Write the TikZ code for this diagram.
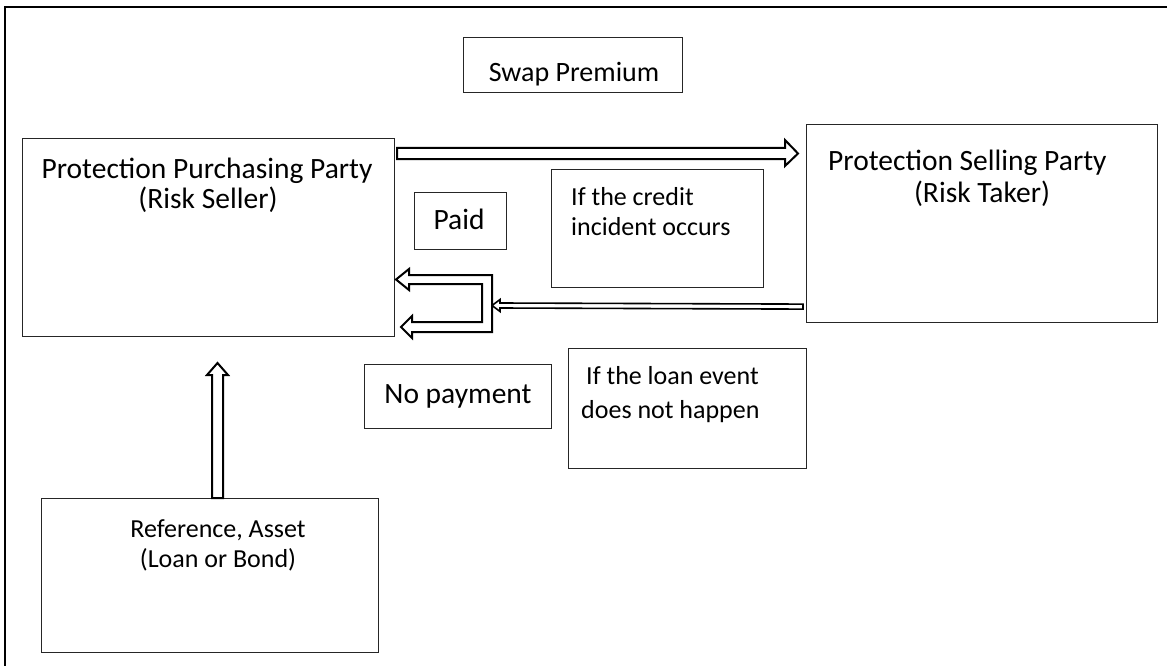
\documentclass[tikz,border=0pt]{standalone}
\usepackage{fontspec}
\setmainfont{Carlito}
\usetikzlibrary{calc}
\tikzset{
  box/.style={draw=black!85, line width=1.1pt, inner sep=0pt, anchor=north west},
  txt/.style={inner sep=0pt, anchor=base west, font=\fontsize{28}{34}\selectfont},
  txtc/.style={inner sep=0pt, anchor=base, font=\fontsize{28}{34}\selectfont},
  big/.style={font=\fontsize{29.5}{34}\selectfont},
  small/.style={font=\fontsize{26}{30}\selectfont},
  blockarrow/.style={draw=black, line width=2pt, fill=white, line join=miter},
  thinarrow/.style={draw=black, line width=1.6pt, fill=white, line join=miter},
  frame/.style={draw=black, line width=2.8pt}
}
\begin{document}
\begin{tikzpicture}[x=1pt, y=-1pt]
\useasboundingbox (0,0) rectangle (1167,666);

% page frame (open at right and bottom)
\draw[frame] (5,666) -- (5,7) -- (1167,7);

% boxes
\node (swap) [box, minimum width=219, minimum height=55] at (463,37) {};
\node (ppp)  [box, minimum width=372, minimum height=198] at (22,138) {};
\node (psp)  [box, minimum width=351, minimum height=198] at (806,124) {};
\node (paid) [box, minimum width=92,  minimum height=57] at (414,192) {};
\node (cred) [box, minimum width=212, minimum height=118] at (551,169) {};
\node (nopay)[box, minimum width=187, minimum height=64] at (364,364) {};
\node (loan) [box, minimum width=238, minimum height=120] at (568,348) {};
\node (ref)  [box, minimum width=337, minimum height=154] at (41,498) {};

% texts
\node[txtc] (tswap) at (574,82) {Swap Premium};
\node[txtc, big] (tppp1) at (207,178) {Protection Purchasing Party};
\node[txtc, big] (tppp2) at (208,208) {(Risk Seller)};
\node[txt, big] (tpsp1) at (828,171) {Protection Selling Party};
\node[txtc, big] (tpsp2) at (982,202) {(Risk Taker)};
\node[txtc, big] (tpaid) at (459,229) {Paid};
\node[txt, small] (tcred1) at (571,205) {If the credit};
\node[txt, small] (tcred2) at (571,235) {incident occurs};
\node[txtc, big] (tnopay) at (458,403) {No payment};
\node[txt, small] (tloan1) at (586,384) {If the loan event};
\node[txt, small] (tloan2) at (581,418) {does not happen};
\node[txtc, small] (tref1) at (218,537) {Reference, Asset};
\node[txtc, small] (tref2) at (218,567) {(Loan or Bond)};

% premium payment: buyer -> seller
\draw[blockarrow]
  ($(ppp.north east)+(2,10)$) -- ($(psp.north west)+(-21,24)$)
  -- ($(psp.north west)+(-21,16)$) -- ($(psp.north west)+(-8,29.5)$)
  -- ($(psp.north west)+(-21,42)$) -- ($(psp.north west)+(-21,35)$)
  -- ($(ppp.north east)+(2,21)$) -- cycle;

% reference asset -> buyer
\draw[blockarrow]
  ($(ref.north west)+(171,0)$) -- ($(ref.north west)+(171,-123)$)
  -- ($(ref.north west)+(166,-123)$) -- ($(ref.north west)+(176.5,-135)$)
  -- ($(ref.north west)+(187,-123)$) -- ($(ref.north west)+(182,-123)$)
  -- ($(ref.north west)+(182,0)$) -- cycle;

% settlement: seller -> fork -> buyer (paid / no payment)
\coordinate (fork) at (492,305.5);
\draw[thinarrow]
  ($(psp.south west)+(-3,-19)$) -- (500,303) -- (500,299.5) -- (fork)
  -- (500,311.5) -- (500,308) -- ($(psp.south west)+(-3,-14)$) -- cycle;
\draw[blockarrow]
  (396,279.5) -- (409,269) -- (409,275) -- (492,275) -- (492,332)
  -- (412,332) -- (412,338) -- (401,327) -- (412,316) -- (412,322)
  -- (482,322) -- (482,284) -- (409,284) -- (409,290) -- cycle;
\end{tikzpicture}
\end{document}
